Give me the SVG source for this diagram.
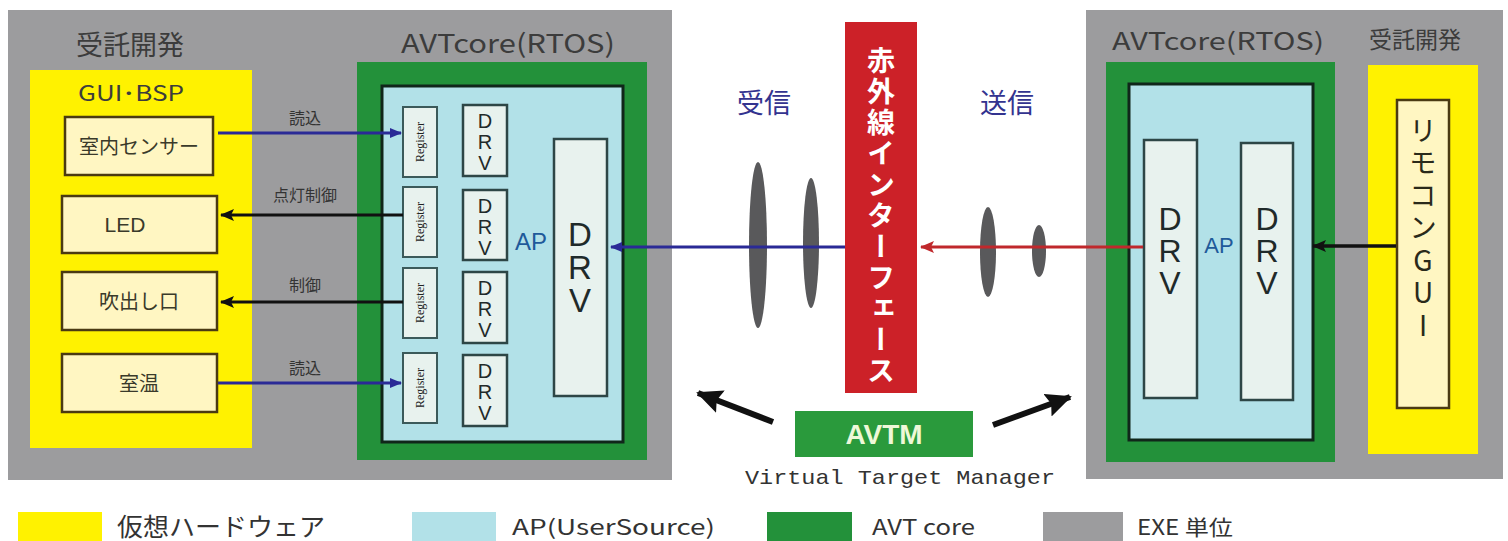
<svg xmlns="http://www.w3.org/2000/svg" width="1508" height="541" viewBox="0 0 1508 541">
<style>
.exe{fill:#9c9c9e}
.core{fill:#23913a}
.hw{fill:#fff200}
.ap{fill:#b2e1e8;stroke:#10261a;stroke-width:3}
.dev{fill:#fff6c2;stroke:#4a3a12;stroke-width:2.5}
.reg{fill:#e8f2ee;stroke:#3b5a5a;stroke-width:2}
.drv{fill:#e8f2ee;stroke:#2d4646;stroke-width:2.5}
.jp{font-family:"Noto Sans CJK JP","Noto Sans",sans-serif}
.ttl{font-family:"Noto Sans CJK JP","Noto Sans",sans-serif;fill:#3c3c3c}
.lat{font-family:"Liberation Sans",Arial,sans-serif}
.lbl{font-family:"Noto Sans CJK JP",sans-serif;font-size:16px;fill:#333;text-anchor:middle}
.regt{font-family:"Liberation Serif",serif;font-size:12px;fill:#222;text-anchor:middle}
.dv{font-family:"Liberation Sans",Arial,sans-serif;fill:#1f2a2a;text-anchor:middle}
.vert{writing-mode:vertical-rl;text-orientation:upright}
.ellip{fill:#59595b}
</style>
<defs>
<marker id="ab" markerWidth="12" markerHeight="10" refX="11" refY="5" orient="auto" markerUnits="userSpaceOnUse"><path d="M0,0 L12,5 L0,10 Z" fill="#2a2a96"/></marker>
<marker id="ak" markerWidth="14" markerHeight="12" refX="13" refY="6" orient="auto" markerUnits="userSpaceOnUse"><path d="M0,0 L14,6 L0,12 L3,6 Z" fill="#111"/></marker>
<marker id="ar" markerWidth="14" markerHeight="12" refX="13" refY="6" orient="auto" markerUnits="userSpaceOnUse"><path d="M0,0 L14,6 L0,12 L3,6 Z" fill="#c0282c"/></marker>
<marker id="akb" markerWidth="26" markerHeight="24" refX="24" refY="12" orient="auto" markerUnits="userSpaceOnUse"><path d="M0,0 L26,12 L0,24 L4,12 Z" fill="#111"/></marker>
</defs>
<rect x="0" y="0" width="1508" height="541" fill="#ffffff"/>

<g id="left-exe">
<rect class="exe" x="8" y="10" width="664" height="470"/>
<text class="ttl" x="130" y="55" font-size="27" text-anchor="middle">受託開発</text>
</g>
<g id="left-hw">
<rect class="hw" x="30" y="70" width="222" height="378"/>
<text class="ttl" x="131" y="101" font-size="21" text-anchor="middle" fill="#3a3a2a" textLength="106" lengthAdjust="spacingAndGlyphs">GUI･BSP</text>
</g>
<g id="dev-sensor"><rect class="dev" x="65" y="117" width="148" height="58"/><text class="jp" x="139" y="154" font-size="20" fill="#3a3a2a" text-anchor="middle">室内センサー</text></g>
<g id="dev-led"><rect class="dev" x="62" y="196" width="155" height="57"/><text class="lat" x="125" y="232" font-size="21" fill="#3a3a2a" text-anchor="middle">LED</text></g>
<g id="dev-vent"><rect class="dev" x="62" y="272" width="155" height="58"/><text class="jp" x="139" y="309" font-size="20" fill="#3a3a2a" text-anchor="middle">吹出し口</text></g>
<g id="dev-temp"><rect class="dev" x="62" y="354" width="155" height="58"/><text class="jp" x="139" y="391" font-size="20" fill="#3a3a2a" text-anchor="middle">室温</text></g>

<g id="left-core">
<rect class="core" x="357" y="62" width="290" height="398"/>
<text class="ttl" x="508" y="53" font-size="26" text-anchor="middle" textLength="214" lengthAdjust="spacingAndGlyphs">AVTcore(RTOS)</text>
</g>
<g id="left-ap">
<rect class="ap" x="382" y="86" width="241" height="356"/>
<text class="lat" x="531" y="250" font-size="24" fill="#1f5a9a" text-anchor="middle">AP</text>
</g>
<g id="reg1"><rect class="reg" x="403" y="107" width="34" height="70"/><text class="regt" transform="translate(424,142) rotate(-90)">Register</text></g>
<g id="reg2"><rect class="reg" x="403" y="187" width="34" height="70"/><text class="regt" transform="translate(424,222) rotate(-90)">Register</text></g>
<g id="reg3"><rect class="reg" x="403" y="268" width="34" height="70"/><text class="regt" transform="translate(424,303) rotate(-90)">Register</text></g>
<g id="reg4"><rect class="reg" x="403" y="353" width="34" height="70"/><text class="regt" transform="translate(424,388) rotate(-90)">Register</text></g>
<g id="drv1"><rect class="drv" x="463" y="105" width="44" height="71"/><text class="dv" font-size="20"><tspan x="485" y="128">D</tspan><tspan x="485" y="149">R</tspan><tspan x="485" y="170">V</tspan></text></g>
<g id="drv2"><rect class="drv" x="463" y="190" width="44" height="70"/><text class="dv" font-size="20"><tspan x="485" y="213">D</tspan><tspan x="485" y="234">R</tspan><tspan x="485" y="255">V</tspan></text></g>
<g id="drv3"><rect class="drv" x="463" y="272" width="44" height="71"/><text class="dv" font-size="20"><tspan x="485" y="295">D</tspan><tspan x="485" y="316">R</tspan><tspan x="485" y="337">V</tspan></text></g>
<g id="drv4"><rect class="drv" x="463" y="355" width="44" height="71"/><text class="dv" font-size="20"><tspan x="485" y="378">D</tspan><tspan x="485" y="399">R</tspan><tspan x="485" y="420">V</tspan></text></g>
<g id="drv-big"><rect class="drv" x="554" y="139" width="53" height="257"/><text class="dv vert" x="580" y="265" font-size="33" letter-spacing="-4">DRV</text></g>

<g id="ir-if">
<rect x="845" y="22" width="72" height="371" fill="#cc2128"/>
<text class="jp vert" x="881" y="46" font-size="28" font-weight="bold" fill="#ffffff" letter-spacing="3">赤外線インターフェース</text>
</g>
<g id="label-rx"><text class="jp" x="764" y="113" font-size="27" fill="#33338f" text-anchor="middle">受信</text></g>
<g id="label-tx"><text class="jp" x="1007" y="113" font-size="27" fill="#33338f" text-anchor="middle">送信</text></g>
<g id="waves">
<ellipse class="ellip" cx="758" cy="245" rx="9" ry="83"/>
<ellipse class="ellip" cx="811" cy="243" rx="8" ry="65"/>
<ellipse class="ellip" cx="988" cy="252" rx="8" ry="45"/>
<ellipse class="ellip" cx="1039" cy="251" rx="7" ry="26"/>
</g>

<g id="avtm">
<rect x="795" y="411" width="178" height="46" fill="#2a9a3c"/>
<text class="lat" x="884" y="444" font-size="28" font-weight="bold" fill="#eef8d8" text-anchor="middle">AVTM</text>
<text x="900" y="484" font-family="'Liberation Mono','DejaVu Sans Mono',monospace" font-size="21" fill="#333" text-anchor="middle" textLength="310" lengthAdjust="spacingAndGlyphs">Virtual Target Manager</text>
</g>

<g id="right-exe">
<rect class="exe" x="1086" y="10" width="417" height="469"/>
<text class="ttl" x="1218" y="50" font-size="24" text-anchor="middle" textLength="212" lengthAdjust="spacingAndGlyphs">AVTcore(RTOS)</text>
<text class="ttl" x="1415" y="48" font-size="23" text-anchor="middle">受託開発</text>
</g>
<g id="right-core"><rect class="core" x="1106" y="62" width="229" height="400"/></g>
<g id="right-ap">
<rect class="ap" x="1129" y="84" width="184" height="356"/>
<text class="lat" x="1219" y="253" font-size="22" fill="#1f5a9a" text-anchor="middle">AP</text>
</g>
<g id="rdrv1"><rect class="drv" x="1144" y="140" width="53" height="258"/><text class="dv vert" x="1170" y="249" font-size="32" letter-spacing="-4">DRV</text></g>
<g id="rdrv2"><rect class="drv" x="1241" y="143" width="52" height="257"/><text class="dv vert" x="1267" y="249" font-size="32" letter-spacing="-4">DRV</text></g>
<g id="right-hw"><rect class="hw" x="1368" y="65" width="110" height="389"/></g>
<g id="remocon-gui">
<rect class="dev" x="1397" y="100" width="52" height="308"/>
<text class="jp vert" x="1423" y="116" font-size="28" fill="#2a2a1a" letter-spacing="4.5">リモコンGUI</text>
</g>

<g id="connectors">
<line x1="218" y1="133" x2="401" y2="133" stroke="#2a2a96" stroke-width="3" marker-end="url(#ab)"/>
<text class="lbl" x="305" y="124">読込</text>
<line x1="403" y1="215" x2="221" y2="215" stroke="#111" stroke-width="3" marker-end="url(#ak)"/>
<text class="lbl" x="305" y="201">点灯制御</text>
<line x1="403" y1="302" x2="221" y2="302" stroke="#111" stroke-width="3" marker-end="url(#ak)"/>
<text class="lbl" x="305" y="291">制御</text>
<line x1="218" y1="383" x2="401" y2="383" stroke="#2a2a96" stroke-width="3" marker-end="url(#ab)"/>
<text class="lbl" x="305" y="374">読込</text>
<line x1="845" y1="247" x2="611" y2="247" stroke="#2a2a96" stroke-width="3" marker-end="url(#ab)"/>
<line x1="1143" y1="247" x2="921" y2="247" stroke="#c0282c" stroke-width="3" marker-end="url(#ar)"/>
<line x1="1396" y1="246" x2="1313" y2="246" stroke="#111" stroke-width="3.5" marker-end="url(#ak)"/>
<line x1="773" y1="422" x2="698" y2="393" stroke="#111" stroke-width="6" marker-end="url(#akb)"/>
<line x1="993" y1="425" x2="1070" y2="397" stroke="#111" stroke-width="6" marker-end="url(#akb)"/>
</g>

<g id="legend">
<rect class="hw" x="18" y="512" width="84" height="29"/>
<text class="jp" x="117" y="536" font-size="25" fill="#333" textLength="208" lengthAdjust="spacingAndGlyphs">仮想ハードウェア</text>
<rect x="412" y="512" width="84" height="29" fill="#b2e1e8"/>
<text class="jp" x="512" y="535" font-size="21" fill="#333" textLength="203" lengthAdjust="spacingAndGlyphs">AP(UserSource)</text>
<rect class="core" x="767" y="512" width="85" height="29"/>
<text class="jp" x="872" y="535" font-size="21" fill="#333" textLength="103" lengthAdjust="spacingAndGlyphs">AVT core</text>
<rect class="exe" x="1043" y="512" width="80" height="29"/>
<text class="jp" x="1137" y="535" font-size="21" fill="#333" textLength="96" lengthAdjust="spacingAndGlyphs">EXE 単位</text>
</g>
</svg>
